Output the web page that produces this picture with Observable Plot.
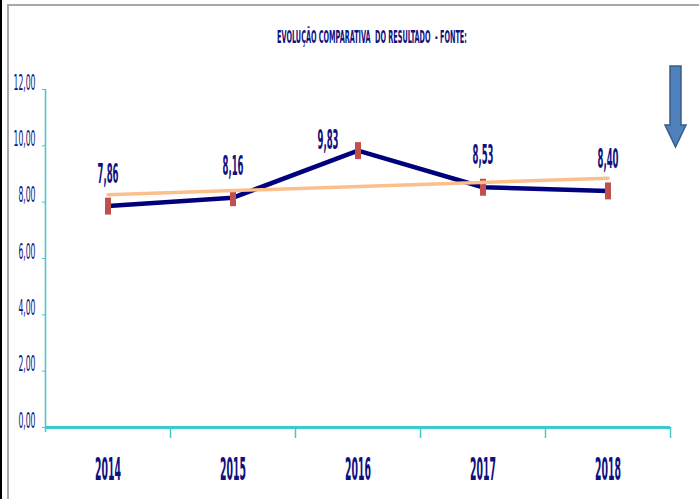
<!DOCTYPE html>
<html><head><meta charset="utf-8">
<script src="https://cdn.jsdelivr.net/npm/d3@7"></script>
<script src="https://cdn.jsdelivr.net/npm/@observablehq/plot@0.6"></script>
<style>
body{margin:0;background:#fff;}
#wrap{position:relative;width:699px;height:499px;overflow:hidden;background:#fff;}
#strip{position:absolute;left:0;top:0;width:2px;height:499px;background:#000;}
#frame{position:absolute;left:7px;top:4px;width:720px;height:520px;border-left:2px solid #a8a8a8;border-top:2px solid #a8a8a8;}
#chart{position:absolute;left:0;top:0;}
</style></head><body>
<div id="wrap"><div id="strip"></div><div id="frame"></div><div id="chart"></div></div>
<script>
const years = [2014, 2015, 2016, 2017, 2018];
const values = [7.86, 8.16, 9.83, 8.53, 8.40];
const yTicks = [0, 2, 4, 6, 8, 10, 12];
const bandEdges = [2014.5, 2015.5, 2016.5, 2017.5, 2018.5];
const titleText = "EVOLUÇÃO COMPARATIVA  DO RESULTADO  - FONTE:";

const data = years.map((year, i) => ({year, value: values[i]}));
const fmt = d => d.toFixed(2).replace(".", ",");
const NAVY = "#10107e", TEAL = "#3ccaca", ORANGE = "#fbbf8c", RED = "#c0504d", LINE = "#00007c";
const FONT = "'Liberation Sans Narrow','DejaVu Sans Condensed','Liberation Sans',sans-serif";
const barMarker = {draw(ctx) { ctx.rect(-3, -8.5, 6, 17); }};

const chart = Plot.plot({
  width: 699, height: 499,
  marginLeft: 45, marginRight: 29, marginTop: 89, marginBottom: 72,
  style: {background: "transparent", fontFamily: FONT, color: NAVY},
  x: {type: "linear", domain: [2013.5, 2018.5], label: null},
  y: {domain: [0, 12], label: null},
  marks: [
    Plot.axisY({ticks: yTicks, tickFormat: fmt, tickSize: 3, tickPadding: 7, stroke: TEAL, fill: NAVY, fontSize: 21}),
    Plot.axisX({ticks: bandEdges, tickFormat: () => "", tickSize: 11, stroke: TEAL, strokeWidth: 1.5}),
    Plot.axisX({ticks: years, tickFormat: d => String(d), tickSize: 0, tickPadding: 52, fill: NAVY, fontSize: 32, fontWeight: "bold"}),
    Plot.ruleX([2013.5], {stroke: TEAL, strokeWidth: 1.5, insetBottom: -5}),
    Plot.ruleY([0], {stroke: TEAL, strokeWidth: 3}),
    Plot.line(data, {x: "year", y: "value", stroke: LINE, strokeWidth: 4.5}),
    Plot.dot(data, {x: "year", y: "value", symbol: barMarker, fill: RED, stroke: "none"}),
    Plot.linearRegressionY(data, {x: "year", y: "value", stroke: ORANGE, strokeWidth: 3.5, ci: 0}),
    Plot.text(data, {filter: d => d.year !== 2016, x: "year", y: "value", text: d => fmt(d.value), dy: -23, fontSize: 27, fontWeight: "bold", fill: NAVY, className: "vlab"}),
    Plot.text(data, {filter: d => d.year === 2016, x: "year", y: "value", text: d => fmt(d.value), dx: -30, dy: -2, fontSize: 27, fontWeight: "bold", fill: NAVY, className: "vlab"})
  ]
});
document.getElementById("chart").appendChild(chart);

const svg = d3.select(chart);
svg.append("text").attr("class", "ttl")
  .attr("transform", "translate(372,43)")
  .attr("text-anchor", "middle")
  .attr("font-size", 18).attr("font-weight", "bold").attr("fill", NAVY)
  .style("white-space", "pre")
  .text(titleText);

svg.append("polygon")
  .attr("points", "670,66 681,66 681,125 686,125 675.5,147 665,125 670,125")
  .attr("fill", "#4f81bd").attr("stroke", "#385d8a").attr("stroke-width", 1.5);

function squeeze(nodes, refText, targetWidth) {
  if (!nodes.length) return;
  const ref = nodes.find(n => n.textContent === refText) || nodes[0];
  const w = ref.getComputedTextLength();
  if (!w) return;
  const s = targetWidth / w;
  nodes.forEach(n => {
    const t = n.getAttribute("transform") || `translate(${n.getAttribute("x") || 0},${n.getAttribute("y") || 0})`;
    n.removeAttribute("x"); n.removeAttribute("y");
    n.setAttribute("transform", t + ` scale(${s},1)`);
  });
}
const texts = sel => Array.from(chart.querySelectorAll(sel));
squeeze(texts('g[aria-label="y-axis tick label"] text'), "12,00", 22);
squeeze(texts('g[aria-label="x-axis tick label"] text').filter(n => n.textContent !== ""), "2014", 26);
squeeze(texts('g.vlab text'), "7,86", 21);
squeeze(texts('text.ttl'), titleText, 190);
</script>
</body></html>
